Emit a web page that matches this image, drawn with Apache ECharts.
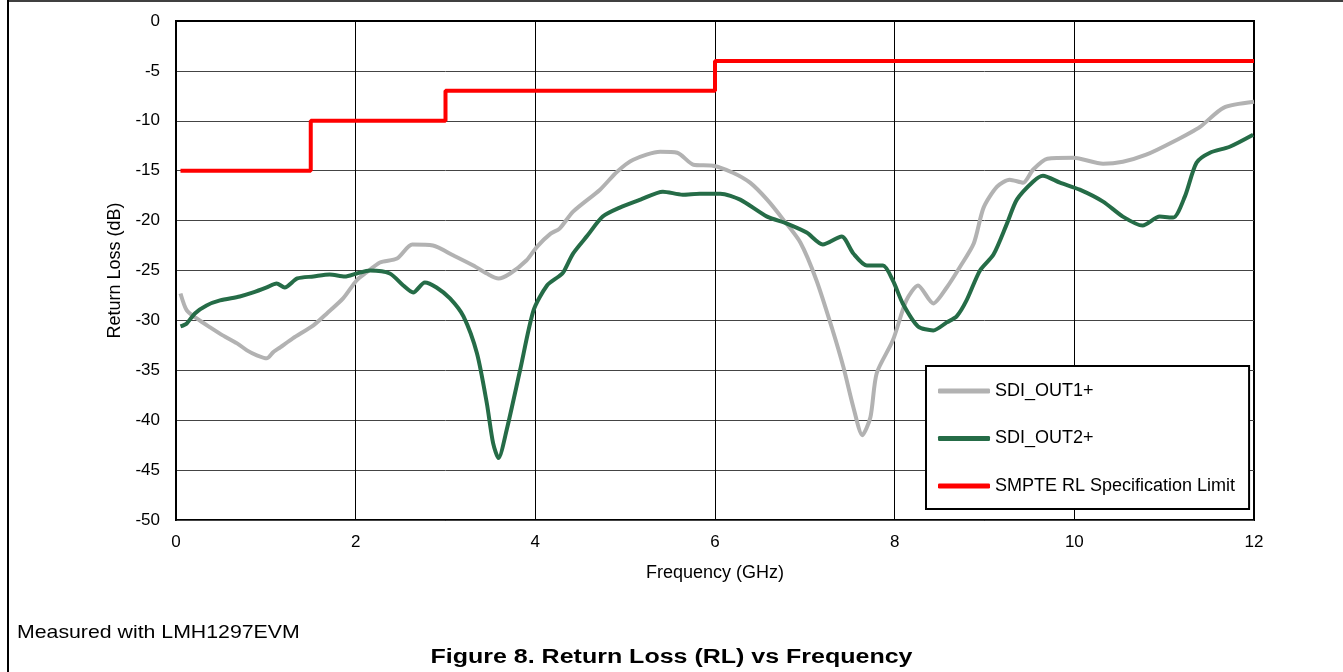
<!DOCTYPE html>
<html><head><meta charset="utf-8">
<script src="https://cdn.jsdelivr.net/npm/echarts@6/dist/echarts.min.js"></script>
<style>html,body{margin:0;padding:0;background:#fff}#c{width:1343px;height:672px}</style>
</head><body><div id="c"></div>
<script>
var xTicks = [0, 2, 4, 6, 8, 10, 12];
var yTicks = [0, -5, -10, -15, -20, -25, -30, -35, -40, -45, -50];
var seriesNames = ['SDI_OUT1+', 'SDI_OUT2+', 'SMPTE RL Specification Limit'];

var out1Freq = [0.05,0.12,0.23,0.38,0.52,0.68,0.79,0.90,1.01,1.08,1.16,1.30,1.53,1.68,1.86,2.01,2.12,2.27,2.46,2.63,2.86,3.09,3.31,3.46,3.59,3.72,3.90,4.02,4.17,4.27,4.42,4.72,4.91,5.09,5.39,5.58,5.76,5.98,6.20,6.39,6.58,6.76,6.95,7.13,7.31,7.43,7.54,7.64,7.73,7.80,7.98,8.13,8.26,8.43,8.58,8.73,8.88,8.99,9.14,9.28,9.43,9.54,9.70,9.99,10.32,10.54,10.80,11.10,11.40,11.66,12.00];
var out1Db = [-27.3,-29.0,-29.8,-30.7,-31.5,-32.3,-33.0,-33.5,-33.8,-33.2,-32.7,-31.8,-30.5,-29.3,-27.8,-26.0,-25.2,-24.2,-23.8,-22.4,-22.5,-23.5,-24.5,-25.3,-25.8,-25.3,-24.0,-22.6,-21.3,-20.8,-19.1,-16.9,-15.1,-13.9,-13.1,-13.2,-14.4,-14.5,-15.2,-16.2,-17.9,-19.9,-22.2,-26.0,-31.0,-34.7,-38.7,-41.5,-39.7,-35.3,-32.0,-28.0,-26.5,-28.3,-26.7,-24.6,-22.3,-18.7,-16.6,-15.9,-16.2,-14.9,-13.8,-13.7,-14.3,-14.1,-13.4,-12.1,-10.6,-8.7,-8.1];

var out2Freq = [0.05,0.12,0.21,0.34,0.49,0.71,0.86,1.01,1.12,1.21,1.35,1.53,1.71,1.88,2.01,2.16,2.38,2.53,2.64,2.77,2.90,3.05,3.20,3.35,3.46,3.53,3.59,3.68,3.83,3.98,4.13,4.26,4.31,4.42,4.58,4.75,4.94,5.17,5.42,5.64,5.83,6.06,6.28,6.58,6.80,7.02,7.20,7.41,7.54,7.69,7.87,7.98,8.09,8.26,8.43,8.58,8.69,8.80,8.95,9.10,9.25,9.36,9.54,9.65,9.84,10.06,10.32,10.54,10.76,10.95,11.10,11.23,11.36,11.51,11.73,11.99];
var out2Db = [-30.6,-30.3,-29.3,-28.5,-28.0,-27.6,-27.2,-26.7,-26.3,-26.7,-25.8,-25.6,-25.4,-25.6,-25.3,-25.0,-25.3,-26.5,-27.2,-26.2,-26.7,-27.8,-29.6,-33.3,-38.3,-42.3,-43.8,-41.0,-35.0,-29.0,-26.5,-25.6,-25.2,-23.3,-21.5,-19.6,-18.7,-17.9,-17.1,-17.4,-17.3,-17.3,-17.9,-19.6,-20.3,-21.2,-22.4,-21.6,-23.3,-24.5,-24.5,-26.0,-28.3,-30.6,-31.0,-30.2,-29.6,-28.0,-25.0,-23.4,-20.3,-17.9,-16.1,-15.5,-16.2,-16.9,-18.1,-19.6,-20.5,-19.6,-19.7,-17.6,-14.2,-13.2,-12.6,-11.4];

var limitFreq = [0.05, 1.5, 1.5, 3, 3, 6, 6, 12];
var limitDb = [-15, -15, -10, -10, -7, -7, -4, -4];

function pairs(xs, ys) { return xs.map(function (x, i) { return [x, ys[i]]; }); }

var FONT = 'Liberation Sans, Arial, Helvetica, sans-serif';
var chart = echarts.init(document.getElementById('c'), null, { renderer: 'canvas' });
chart.setOption({
  animation: false,
  backgroundColor: '#fff',
  textStyle: { fontFamily: FONT },
  grid: { left: 176, right: 89, top: 21, bottom: 152, show: true, borderColor: '#000', borderWidth: 2, backgroundColor: 'transparent' },
  xAxis: {
    type: 'value', min: xTicks[0], max: xTicks[xTicks.length - 1], interval: 2,
    name: 'Frequency (GHz)', nameLocation: 'middle', nameGap: 44,
    nameTextStyle: { fontSize: 18, color: '#000', fontFamily: FONT },
    axisLine: { show: true, lineStyle: { color: '#000', width: 2 } },
    axisTick: { show: false },
    axisLabel: { fontSize: 17, color: '#000', margin: 14, fontFamily: FONT },
    splitLine: { show: true, lineStyle: { color: '#000', width: 1 } }
  },
  yAxis: {
    type: 'value', min: yTicks[yTicks.length - 1], max: yTicks[0], interval: 5,
    name: 'Return Loss (dB)', nameLocation: 'middle', nameGap: 50, nameRotate: 90,
    nameTextStyle: { fontSize: 18, color: '#000', fontFamily: FONT },
    axisLine: { show: true, lineStyle: { color: '#000', width: 2 } },
    axisTick: { show: false },
    axisLabel: { fontSize: 17, color: '#000', margin: 16, fontFamily: FONT },
    splitLine: { show: true, lineStyle: { color: '#444', width: 1 } }
  },
  legend: {
    orient: 'vertical', left: 926, top: 366,
    backgroundColor: '#fff', borderColor: '#000', borderWidth: 2,
    padding: [16, 14, 14, 12], itemGap: 29.5,
    itemWidth: 52, itemHeight: 5, icon: 'roundRect',
    textStyle: { fontSize: 18, color: '#000', fontFamily: FONT, padding: [0, 0, 0, 0] },
    data: seriesNames
  },
  series: [
    { name: seriesNames[0], type: 'line', data: pairs(out1Freq, out1Db), showSymbol: false, symbol: 'none', smooth: 0.25, lineStyle: { color: '#b2b2b2', width: 4 }, itemStyle: { color: '#b2b2b2' }, z: 3 },
    { name: seriesNames[1], type: 'line', data: pairs(out2Freq, out2Db), showSymbol: false, symbol: 'none', smooth: 0.25, lineStyle: { color: '#256c47', width: 4 }, itemStyle: { color: '#256c47' }, z: 4 },
    { name: seriesNames[2], type: 'line', data: pairs(limitFreq, limitDb), showSymbol: false, symbol: 'none', lineStyle: { color: '#ff0000', width: 4 }, itemStyle: { color: '#ff0000' }, z: 5 }
  ],
  graphic: [
    { type: 'line', shape: { x1: 8, y1: 0, x2: 8, y2: 672 }, style: { stroke: '#000', lineWidth: 2 } },
    { type: 'line', shape: { x1: 8, y1: 1, x2: 1343, y2: 1 }, style: { stroke: '#000', lineWidth: 1.5 } },
    { type: 'text', x: 17, y: 633, scaleX: 1.12, style: { text: 'Measured with LMH1297EVM', fontSize: 19, fill: '#000', fontFamily: FONT, textAlign: 'left', textVerticalAlign: 'middle' } },
    { type: 'text', x: 671.5, y: 657, scaleX: 1.25, style: { text: 'Figure 8. Return Loss (RL) vs Frequency', fontSize: 20, fontWeight: 'bold', fill: '#000', fontFamily: FONT, textAlign: 'center', textVerticalAlign: 'middle' } }
  ]
});
</script></body></html>
